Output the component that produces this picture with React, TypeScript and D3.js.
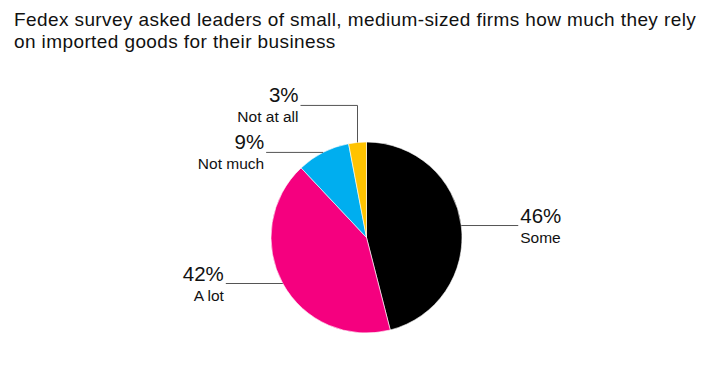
import React from 'react';
import * as d3 from 'd3';

const categories = ['Some', 'A lot', 'Not much', 'Not at all'];
const shares = [46, 42, 9, 3];
const colors = ['#000000', '#f5007f', '#00aeef', '#ffc300'];
const titleLines = [
  'Fedex survey asked leaders of small, medium-sized firms how much they rely',
  'on imported goods for their business',
];

const W = 725;
const H = 375;
const cx = 366.5;
const cy = 237.5;
const radius = 95.5;
const leaderLen = 57;
const elbowRise = 37;

export default function App() {
  const ref = React.useRef<SVGSVGElement>(null);

  React.useEffect(() => {
    const svg = d3.select(ref.current);
    svg.selectAll('*').remove();

    const font = '"Liberation Sans", Arial, Helvetica, sans-serif';

    // title, two lines
    svg
      .append('g')
      .selectAll('text')
      .data(titleLines)
      .enter()
      .append('text')
      .attr('x', 14)
      .attr('y', (_d, i) => 25.5 + i * 22.5)
      .attr('font-family', font)
      .attr('font-size', 19)
      .attr('letter-spacing', 0.4)
      .attr('fill', '#111')
      .text((d) => d);

    const data = categories.map((c, i) => ({ name: c, value: shares[i], color: colors[i] }));
    const pie = d3
      .pie<{ name: string; value: number; color: string }>()
      .sort(null)
      .value((d) => d.value);
    const arcs = pie(data);
    const arc = d3
      .arc<d3.PieArcDatum<{ name: string; value: number; color: string }>>()
      .innerRadius(0)
      .outerRadius(radius);

    const g = svg.append('g').attr('transform', `translate(${cx},${cy})`);

    g.selectAll('path')
      .data(arcs)
      .enter()
      .append('path')
      .attr('d', arc)
      .attr('fill', (d) => d.data.color)
      .attr('stroke', '#fff')
      .attr('stroke-width', 0.6);

    const labels = g.selectAll('g.label').data(arcs).enter().append('g').attr('class', 'label');

    // leader lines start on the rim at the slice's mid angle
    labels.each(function (d) {
      const mid = (d.startAngle + d.endAngle) / 2;
      const px = radius * Math.sin(mid);
      const py = -radius * Math.cos(mid);
      const right = px > 0;
      const small = d.data.value < 5;
      const ly = small ? py - elbowRise : py;
      const ex = right ? px + leaderLen : px - leaderLen;
      const pts: [number, number][] = small
        ? [
            [px, py],
            [px, ly],
            [ex, ly],
          ]
        : [
            [px, py],
            [ex, ly],
          ];
      const sel = d3.select(this);
      sel
        .append('path')
        .attr('d', d3.line()(pts))
        .attr('fill', 'none')
        .attr('stroke', '#555')
        .attr('stroke-width', 1);
      const tx = right ? ex + 2 : ex - 2;
      const anchor = right ? 'start' : 'end';
      sel
        .append('text')
        .attr('x', tx)
        .attr('y', ly - 3)
        .attr('text-anchor', anchor)
        .attr('font-family', font)
        .attr('font-size', 20.5)
        .attr('fill', '#111')
        .text(`${d.data.value}%`);
      sel
        .append('text')
        .attr('x', tx)
        .attr('y', ly + 17)
        .attr('text-anchor', anchor)
        .attr('font-family', font)
        .attr('font-size', 15.5)
        .attr('fill', '#111')
        .text(d.data.name);
    });
  }, []);

  return (
    <svg
      ref={ref}
      width={W}
      height={H}
      style={{ position: 'absolute', left: 0, top: 0, background: '#fff' }}
    />
  );
}
